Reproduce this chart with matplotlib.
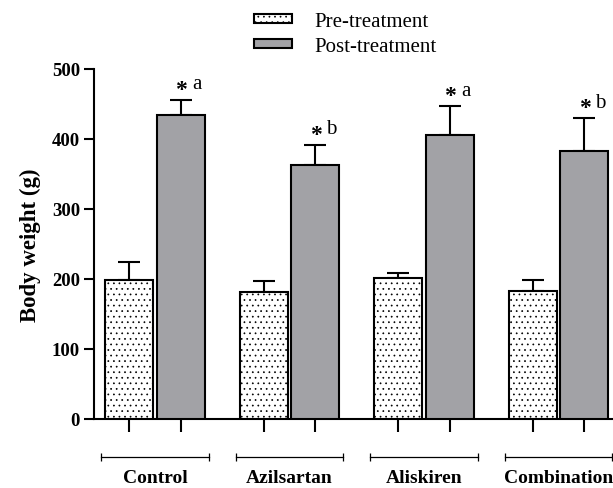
import numpy as np
import matplotlib
matplotlib.use('Agg')
import matplotlib.pyplot as plt
import matplotlib.transforms as mtransforms

groups = ['Control', 'Azilsartan', 'Aliskiren', 'Combination']
pre_mean = [198, 181, 201, 183]
pre_sd = [26, 16, 8, 16]
post_mean = [434, 363, 406, 383]
post_sd = [22, 29, 41, 47]
post_marks = ['a', 'b', 'a', 'b']
series = ['Pre-treatment', 'Post-treatment']

plt.rcParams['font.family'] = ['Liberation Serif', 'DejaVu Serif']
plt.rcParams['hatch.linewidth'] = 0.5

fig = plt.figure(figsize=(6.13, 4.89), dpi=100)
ax = fig.add_axes([94 / 613, 69 / 489, 0.8894, 350 / 489])

x = np.arange(len(groups))
off = 0.193
w = 0.357
post_color = '#a2a2a6'

b1 = ax.bar(x - off, pre_mean, w, color='white', edgecolor='black', linewidth=1.5,
            hatch='...', label=series[0], zorder=3)
b2 = ax.bar(x + off, post_mean, w, color=post_color, edgecolor='black', linewidth=1.5,
            label=series[1], zorder=3)
ax.errorbar(x - off, pre_mean, yerr=[np.zeros(4), pre_sd], fmt='none', ecolor='black',
            elinewidth=1.5, capsize=8, capthick=1.5, zorder=2)
ax.errorbar(x + off, post_mean, yerr=[np.zeros(4), post_sd], fmt='none', ecolor='black',
            elinewidth=1.5, capsize=8, capthick=1.5, zorder=2)

# significance marks above the post-treatment bars
for i in range(len(groups)):
    top = post_mean[i] + post_sd[i]
    ax.annotate('*', (x[i] + off, top), xytext=(0, 7.5), textcoords='offset points',
                ha='center', va='center', fontsize=17, fontweight='bold')
    ax.annotate(post_marks[i], (x[i] + off, top), xytext=(11.5, 11.5), textcoords='offset points',
                ha='center', va='center', fontsize=15)

ax.set_xlim(-0.4535, 3.6)
ax.set_ylim(0, 500)
ax.set_yticks([0, 100, 200, 300, 400, 500])
ax.set_yticklabels(['0', '100', '200', '300', '400', '500'], fontweight='bold', fontsize=13.5)
ax.set_xticks(np.concatenate([x - off, x + off]))
ax.set_xticklabels([])
ax.tick_params(axis='y', length=7, width=1.5, pad=3)
ax.tick_params(axis='x', length=9, width=1.5)
for s in ['top', 'right']:
    ax.spines[s].set_visible(False)
for s in ['left', 'bottom']:
    ax.spines[s].set_linewidth(1.5)

ax.set_ylabel('Body weight (g)', fontsize=16.5, fontweight='bold', labelpad=8)

# group brackets and names under the axis
trans = mtransforms.blended_transform_factory(ax.transData, ax.transAxes)
for i, g in enumerate(groups):
    ax.plot([x[i] - 0.4, x[i] + 0.4], [-0.1086, -0.1086], color='black', lw=0.9,
            marker='|', markersize=6, markeredgewidth=0.9, transform=trans, clip_on=False)
    ax.text(x[i], -0.181, g, transform=trans, ha='center', va='baseline',
            fontsize=14, fontweight='bold')

fig.legend(handles=[b1, b2], labels=series, loc='upper left',
           bbox_to_anchor=(254 / 613, 1 - 13 / 489), frameon=False, fontsize=15,
           handlelength=1.83, handleheight=0.3, handletextpad=1.06,
           labelspacing=0.27, borderpad=0, borderaxespad=0)

fig.savefig('out.png', dpi=100)
